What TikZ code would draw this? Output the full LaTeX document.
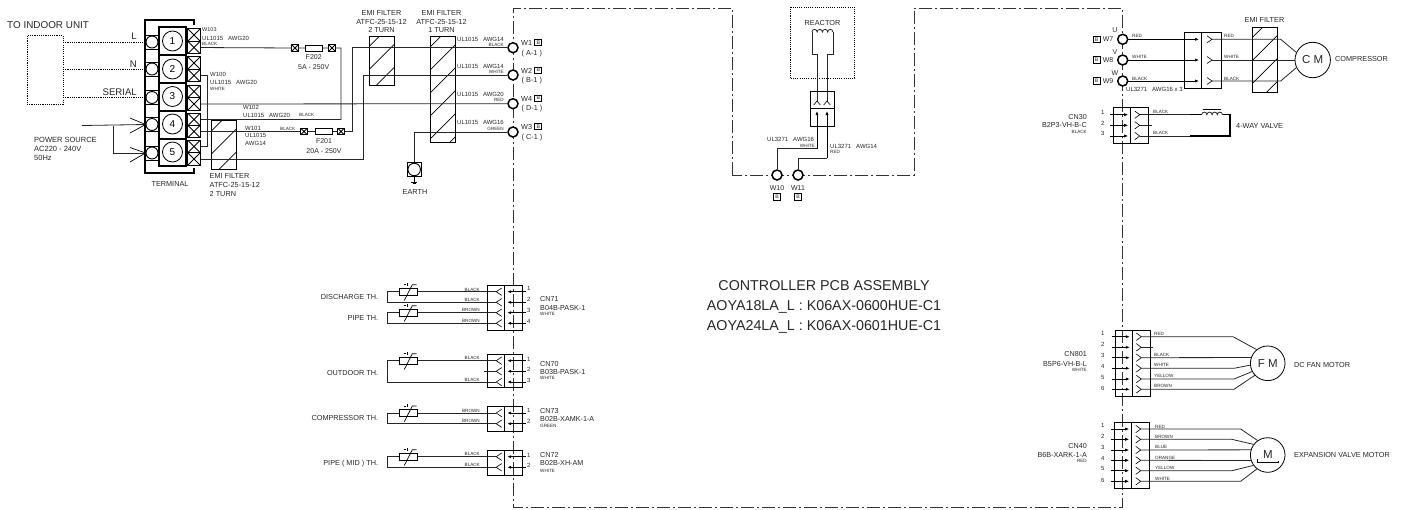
\documentclass[tikz,border=0pt]{standalone}
\usepackage{fontspec}
\setmainfont{Liberation Sans}
\usetikzlibrary{arrows.meta,calc}
\newcount\tn
\newdimen\tdim
\newcommand{\T}[4][west]{\global\advance\tn by 1\relax\tdim=#3pt\relax\tdim=0.72\tdim\relax
  \node[anchor=#1,inner sep=0pt,text depth=0pt,text height=\the\tdim,text=black!85,font=\fontsize{#3}{#3}\selectfont] (t\the\tn) at (#2) {#4};}
\tikzset{
  wire/.style={line width=0.8pt,black!85},
  heavy/.style={line width=1pt,black},
  dot/.style={line width=0.7pt,dash pattern=on 1.1pt off 1.1pt},
  pcb/.style={line width=0.8pt,black!80,dash pattern=on 13pt off 3pt on 2pt off 3pt},
  xbox/.style={draw,line width=0.8pt,rectangle,inner sep=0pt,minimum width=#1,minimum height=#1,fill=white,
    path picture={\draw[line width=0.8pt] (path picture bounding box.south west)--(path picture bounding box.north east)
      (path picture bounding box.north west)--(path picture bounding box.south east);}},
  bigc/.style={draw,circle,line width=0.8pt,inner sep=0pt,minimum size=20pt,fill=white,font=\fontsize{10}{10}\selectfont},
  smc/.style={draw,circle,line width=0.9pt,inner sep=0pt,minimum size=12pt,fill=white},
  wc/.style={draw,circle,line width=1.5pt,inner sep=0pt,minimum size=10pt,fill=white},
  motor/.style={draw,circle,line width=0.8pt,inner sep=0pt,fill=white,text=black!85,font=\fontsize{11.5}{12}\selectfont},
  fuse/.style={draw,rectangle,line width=0.8pt,inner sep=0pt,minimum width=17pt,minimum height=6pt},
  bx/.style={draw,rectangle,line width=0.9pt,inner sep=0pt,minimum width=7pt,minimum height=6.5pt,text=black!85,font=\fontsize{5.2}{5}\selectfont},
  therm/.style={draw,rectangle,line width=0.8pt,inner sep=0pt,minimum width=18pt,minimum height=6.7pt},
  pin/.style={line width=0.8pt,-{Latex[length=4pt,width=3.2pt]}},
  caret/.style={line width=0.6pt},
}
% EMI filter: name, centre x, centre y, width, height
\newcommand{\emi}[5]{\node[draw,rectangle,line width=0.9pt,inner sep=0pt,minimum width=#4pt,minimum height=#5pt,
  path picture={\foreach \o in {10,33,...,171}{\draw[line width=0.7pt] ($(path picture bounding box.north west)+(0,\o)$) -- ++(30,-30);}}] (#1) at (#2,#3) {};}
\newcommand{\cbox}[6]{\draw[heavy] (#2,#5) rectangle (#4,#6) (#3,#5) -- (#3,#6); \coordinate (#1) at (#3,#5);}
\newcommand{\rowsR}[5]{\foreach \i/\y in {#5}{
   \draw[pin] (#2-3.5,\y) -- (#3-2.5,\y);
   \draw[caret] (#3+4,\y-3.7) -- (#3+9,\y) -- (#3+4,\y+3.7);
   \coordinate (#1-\i) at (#3+9,\y);}}
\newcommand{\rowsL}[5]{\foreach \i/\y in {#5}{
   \draw[pin] (#4+3.5,\y) -- (#3+2.5,\y);
   \draw[caret] (#3-3,\y-3.7) -- (#3-8.5,\y) -- (#3-3,\y+3.7);
   \coordinate (#1-\i) at (#3-8.5,\y);}}
% thermistor: name, y
\newcommand{\thm}[2]{\node[therm] (#1) at (408.3,#2) {};
  \draw[line width=0.7pt] (404.3,#2+8.7) -- (412.3,#2-7) -- (416.5,#2-7);
  \draw[line width=0.7pt] (403.8,#2-7) -- (406,#2-7) (407.2,#2-8.6) -- (407.2,#2-5.6);}
\begin{document}
\begin{tikzpicture}[x=1pt,y=-1pt]
\useasboundingbox (0,0) rectangle (1406,509);

% ---------- PCB outline
\draw[pcb] (732,175) -- (732,8) -- (513,8) -- (513,507) -- (1122.7,507) -- (1122.7,8) -- (914,8) -- (914,175) -- cycle;

% ---------- indoor unit & terminal
\T{7,25}{9.9}{TO INDOOR UNIT}
\node[draw,dot,rectangle,inner sep=0pt,minimum width=36pt,minimum height=68.5pt] (indoor) at (45,70) {};
\draw[heavy,line width=1.1pt] (194,25) -- (194,20) -- (145,20) -- (145,173) -- (194,173) -- (194,168);
\foreach \n/\ya/\yb/\yc/\ys in {1/27/55/41/42,2/55/83/69/69,3/83/111/96.5/97.5,4/111/139/124/124.5,5/139/166/152/153}{
  \draw[line width=0.8pt] (145,\ys-7) rectangle (159,\ys+7);
  \node[smc] (tl\n) at (152,\ys) {};
  \draw[line width=1.3pt] (159,\ya) rectangle (186,\yb);
  \node[bigc] (tn\n) at (172.5,\yc) {\n};
}
\foreach \nm/\y in {a1/35,b1/47.5,a2/63,b2/75.5,a3/91.5,b3/104,a4/119.5,b4/131.5,a5/146.5,b5/159}{
  \node[xbox=12.5pt] (x\nm) at (194,\y) {};
}
\draw[dot] (tl1.west) -- (63,42);
\draw[dot] (tl2.west) -- (63,69);
\draw[dot] (tl3.west) -- (63,97.5);
\T[east]{137,36}{9.6}{L}
\T[east]{137,64}{9.6}{N}
\T[east]{137,92}{9.6}{SERIAL}

% power source
\coordinate (psrc) at (82,125.5);
\coordinate (psj) at (113,125.5);
\draw[wire] (psrc) -- (tl4.west);
\draw[wire] (psj) |- (tl5.west);
\draw[line width=0.7pt] (130,118) -- (tl4.west) -- (130,133);
\draw[line width=0.7pt] (130,147.5) -- (tl5.west) -- (130,162);
\T{34,140}{7.5}{POWER SOURCE}
\T{34,148.7}{7.5}{AC220 - 240V}
\T{34,158}{7.5}{50Hz}
\T[center]{170,184}{7.3}{TERMINAL}

% EMI filters
\emi{emiA}{224}{145}{24.5}{49}
\emi{emiB}{381.5}{60.8}{25}{48.5}
\emi{emiC}{443}{89.7}{25}{106}
\emi{emiD}{1264.5}{60}{25}{64.5}
\T{209.5,176}{7.3}{EMI FILTER}
\T{209.5,185}{7.3}{ATFC-25-15-12}
\T{209.5,193.7}{7.3}{2 TURN}
\T[center]{381.5,13}{7.3}{EMI FILTER}
\T[center]{381.5,21.7}{7.3}{ATFC-25-15-12}
\T[center]{381.5,30}{7.3}{2 TURN}
\T[center]{441.5,13}{7.3}{EMI FILTER}
\T[center]{441.5,21.7}{7.3}{ATFC-25-15-12}
\T[center]{441.5,30}{7.3}{1 TURN}
\T[center]{1264.5,20}{7.3}{EMI FILTER}

% fuses
\node[xbox=6.5pt] (f2l) at (295,48) {};
\node[fuse] (f2) at (313.7,48) {};
\node[xbox=6.5pt] (f2r) at (332,48) {};
\node[xbox=6.5pt] (f1l) at (304,131.5) {};
\node[fuse] (f1) at (323.7,131.5) {};
\node[xbox=6.5pt] (f1r) at (341,131.5) {};
\T[center]{313.7,57}{7}{F202}
\T[center]{313.7,66.5}{7}{5A - 250V}
\T[center]{324,141}{7}{F201}
\T[center]{324,150.7}{7}{20A - 250V}

% W terminals
\node[wc] (W1) at (513,47.7) {};
\node[wc] (W2) at (513,75) {};
\node[wc] (W4) at (513,103.7) {};
\node[wc] (W3) at (513,132) {};
\coordinate (c341) at (341,48);
\coordinate (c352) at (352.5,131.5);
\coordinate (c364) at (363.7,159);
\coordinate (c207) at (207.5,75.5);
\draw[wire] (xb1) -- (f2l) (f2l) -- (f2) (f2) -- (f2r) (f2r) -- (c341) |- (xa4);
\draw[wire] (xb2) -- (c207) |- (xa5);
\draw[wire] (xb3) -- (W4);
\draw[wire] (xb4) -- (f1l) (f1l) -- (f1) (f1) -- (f1r) (f1r) -- (c352) |- (W1);
\draw[wire] (xb5) -- (c364) |- (W2);
% earth
\node[rectangle,draw,line width=0.9pt,inner sep=0pt,minimum width=14.3pt,minimum height=13.6pt] (earth) at (414.2,169.5) {};
\node[draw,circle,line width=0.9pt,inner sep=0pt,minimum size=12.5pt] (earthc) at (414.2,169.5) {};
\draw[wire] (W3) -| (earth.north);
\draw[line width=0.6pt] (earth.south) -- ++(0,5.5) ++(-3,0) -- ++(6,0) ++(-4.6,1.4) -- ++(3.2,0);
\T[center]{415,192}{7.3}{EARTH}
% texts left part
\T{202,30}{5.5}{W103}
\T{202,38.5}{6}{UL1015\ \ \ AWG20}
\T{202,44}{4.6}{BLACK}
\T{210,74}{6}{W100}
\T{210,82.7}{6}{UL1015\ \ \ AWG20}
\T{210,89}{4.6}{WHITE}
\T{243,107.7}{6}{W102}
\T{243,115}{6}{UL1015\ \ \ AWG20}
\T{299,115}{4.6}{BLACK}
\T{245,128}{6}{W101}
\T{245,135}{6}{UL1015}
\T{245,143}{6}{AWG14}
\T{280,128.7}{4.6}{BLACK}
\foreach \a/\b/\c/\d in {39/45.3/AWG14/BLACK,66/71.7/AWG14/WHITE,94/100/AWG20/RED,122.3/129/AWG16/GREEN}{
  \T{457,\a}{6}{UL1015}
  \T[east]{504,\a}{6}{\c}
  \T[east]{504,\b}{4.6}{\d}
}
\foreach \a/\b/\c/\d in {43/52.7/W1/A-1,70.7/80/W2/B-1,98.7/108/W4/D-1,127/136.7/W3/C-1}{
  \T{521,\a}{7.3}{\c}
  \node[bx] (bx\c) at (538.3,\a-0.5) {B};
  \T{521.5,\b}{7.3}{( \d\ )}
}

% ---------- reactor
\node[draw,dot,rectangle,inner sep=0pt,minimum width=64pt,minimum height=70.7pt] (reactor) at (822.7,42.7) {};
\T[center]{822.5,23}{7.3}{REACTOR}
\draw[heavy] (810.3,91.3) rectangle (834.7,126.3) (810.3,108.7) -- (834.7,108.7);
\coordinate (cr1) at (817,101);
\coordinate (cr2) at (827,101);
\draw[wire] (811.9,32) arc[start angle=180,end angle=0,radius=2.625pt] arc[start angle=180,end angle=0,radius=2.625pt] arc[start angle=180,end angle=0,radius=2.625pt] arc[start angle=180,end angle=0,radius=2.625pt];
\draw[wire] (811.9,32) -- (811.9,54) -- (817,54) -- (cr1);
\draw[wire] (832.9,32) -- (832.9,54) -- (827,54) -- (cr2);
\draw[caret] (813.7,105) -- (817,101) -- (820.3,105);
\draw[caret] (823.7,105) -- (827,101) -- (830.3,105);
\node[wc] (W10) at (777,175) {};
\node[wc] (W11) at (798,175) {};
\coordinate (w10a) at (817,148.7);
\coordinate (w11a) at (827,158);
\coordinate (cr3) at (817,111);
\coordinate (cr4) at (827,111);
\draw[pin,{Latex[length=4pt,width=3.2pt]}-] (cr3) -- (w10a);
\draw[pin,{Latex[length=4pt,width=3.2pt]}-] (cr4) -- (w11a);
\draw[wire] (w10a) -| (W10);
\draw[wire] (w11a) -| (W11);
\T{767,139}{6}{UL3271\ \ \ AWG16}
\T[east]{815,145.7}{4.6}{WHITE}
\T{830,146}{6}{UL3271\ \ \ AWG14}
\T{830,152}{4.6}{RED}
\T[center]{777,188}{7}{W10}
\T[center]{798,188}{7}{W11}
\node[bx] (bx10) at (777,197) {B};
\node[bx] (bx11) at (798,197) {B};

% ---------- centre title
\T[center]{824,285}{14.3}{CONTROLLER PCB ASSEMBLY}
\T[center]{824,305}{14.3}{AOYA18LA\_L : K06AX-0600HUE-C1}
\T[center]{824,325}{14.3}{AOYA24LA\_L : K06AX-0601HUE-C1}

% ---------- compressor
\node[wc] (W7) at (1122.7,39.3) {};
\node[wc] (W8) at (1122.7,60) {};
\node[wc] (W9) at (1122.7,81) {};
\foreach \c/\l/\y/\z in {W7/U/39.3/30,W8/V/60/52,W9/W/81/73}{
  \T[center]{1108,\y}{7}{\c}
  \node[bx] (bx\c) at (1096.5,\y) {B};
  \T[center]{1115,\z}{7}{\l}
}
\draw[heavy] (1184.7,32) rectangle (1221.7,88) (1201.7,32) -- (1201.7,88);
\draw[pin] (W7) -- (1199,39.3);
\draw[pin] (W8) -- (1199,60);
\draw[pin] (W9) -- (1199,81);
\foreach \i/\y in {1/39.3,2/60,3/81}{
  \draw[caret] (1207,\y-3.5) -- (1212,\y) -- (1207,\y+3.5);
  \coordinate (cu-\i) at (1212,\y);
}
\node[motor,minimum size=35.4pt] (CM) at (1312.7,60) {C M};
\draw[wire] (cu-1) -- (1280.7,39.3) -- (CM.155);
\draw[wire] (cu-2) -- (CM.west);
\draw[wire] (cu-3) -- (1280.7,81) -- (CM.205);
\T{1335,59}{7.3}{COMPRESSOR}
\foreach \x in {1132,1224}{
  \T{\x,36.2}{4.6}{RED}
  \T{\x,57}{4.6}{WHITE}
  \T{\x,78.4}{4.6}{BLACK}
}
\T{1126,89.7}{6}{UL3271}
\T{1152,89.7}{6}{AWG16 x 3}

% ---------- CN30 / 4-way valve
\cbox{c30}{1113.3}{1130.7}{1148.3}{107.3}{143}
\rowsR{cn30}{1113.3}{1130.7}{1148.3}{1/114.7,2/125.3,3/136}
\draw[wire] (cn30-2) -- ++(12,0);
\coordinate (cva) at (1201.7,114.7);
\coordinate (cvb) at (1222.7,114.7);
\coordinate (cvc) at (1230,114.7);
\coordinate (cvd) at (1230,136);
\coordinate (cve) at (1190,136);
\draw[wire] (cn30-1) -- (cva);
\draw[heavy,line width=1.1pt] (1190,114.7) -- (cva);
\draw[wire] (cva) arc[start angle=180,end angle=0,radius=2.6pt] arc[start angle=180,end angle=0,radius=2.6pt] arc[start angle=180,end angle=0,radius=2.6pt] arc[start angle=180,end angle=0,radius=2.6pt];
\draw[heavy,line width=1.1pt] (cvb) -- (cvc) -- (cvd) -- (cve);
\draw[wire] (cve) -- (cn30-3);
\draw[line width=0.7pt] (1203,109.7) -- (1221,109.7);
\foreach \n/\y in {1/112,2/123,3/133}{\T[center]{1102.7,\y}{6}{\n}}
\T[east]{1087,117}{7.2}{CN30}
\T[east]{1087,125}{7.2}{B2P3-VH-B-C}
\T[east]{1087,132}{4.6}{BLACK}
\T{1153,112}{4.6}{BLACK}
\T{1153,133}{4.6}{BLACK}
\T{1236,126}{7.3}{4-WAY VALVE}

% ---------- CN801 / fan motor
\cbox{c801}{1115}{1132.3}{1150}{330}{396.3}
\rowsR{cn801}{1115}{1132.3}{1150}{1/336.7,2/347.3,3/357.7,4/368.3,5/379,6/389.3}
\node[motor,minimum size=34.6pt] (FM) at (1267.7,363.3) {F M};
\draw[wire] (cn801-2) -- ++(12,0);
\draw[wire] (cn801-1) -- (1233,336.7) -- (FM.129);
\draw[wire] (cn801-3) -- (FM.161);
\draw[wire] (cn801-4) -- (1234,368.3) -- (FM.186);
\draw[wire] (cn801-5) -- (1234,379) -- (FM.208);
\draw[wire] (cn801-6) -- (1234,389.3) -- (FM.223);
\foreach \n/\y in {1/333,2/344,3/355,4/366,5/377,6/388.5}{\T[center]{1102.7,\y}{6}{\n}}
\T[east]{1087,354}{7.2}{CN801}
\T[east]{1087,364}{7.2}{B5P6-VH-B-L}
\T[east]{1087,370.3}{4.6}{WHITE}
\foreach \c/\y in {RED/334,BLACK/355,WHITE/365,YELLOW/376,BROWN/386.3}{\T{1154,\y}{4.6}{\c}}
\T{1294,365}{7.3}{DC FAN MOTOR}

% ---------- CN40 / expansion valve motor
\cbox{c40}{1114.3}{1131.7}{1149.3}{422.3}{488.3}
\rowsR{cn40}{1114.3}{1131.7}{1149.3}{1/429,2/439.3,3/450,4/460.3,5/470.7,6/481.3}
\node[motor,minimum size=34.6pt] (EM) at (1267.7,455) {};
\T[center]{1268,454}{11.5}{M}
\draw[line width=0.8pt] (1257.3,459.3) -- (1257.3,462.5) -- (1278.7,462.5) -- (1278.7,460.5);
\draw[wire] (cn40-1) -- (1240.7,429) -- (EM.125.5);
\draw[wire] (cn40-2) -- (1231.7,439.3) -- (EM.143);
\draw[wire] (cn40-3) -- (EM.163);
\draw[wire] (cn40-4) -- (EM.198);
\draw[wire] (cn40-5) -- (1232,470.7) -- (EM.216);
\draw[wire] (cn40-6) -- (1240.7,481.3) -- (EM.232.5);
\foreach \n/\y in {1/425,2/436,3/447,4/458,5/468,6/480}{\T[center]{1102.7,\y}{6}{\n}}
\T[east]{1087,446}{7.2}{CN40}
\T[east]{1087,455}{7.2}{B6B-XARK-1-A}
\T[east]{1087,461}{4.6}{RED}
\foreach \c/\y in {RED/427,BROWN/437,BLUE/447,ORANGE/458,YELLOW/468.3,WHITE/479.3}{\T{1155,\y}{4.6}{\c}}
\T{1294,454.5}{7.3}{EXPANSION VALVE MOTOR}

% ---------- thermistor connectors
\cbox{c71}{487.3}{504.7}{522}{285}{330.3}
\rowsL{cn71}{487.3}{504.7}{522}{1/291.7,2/302.3,3/312.7,4/323.3}
\cbox{c70}{487.3}{504.7}{522}{354.3}{387.3}
\rowsL{cn70}{487.3}{504.7}{522}{1/360.7,2/371.3,3/382}
\cbox{c73}{487.3}{504.7}{522}{406}{431.3}
\rowsL{cn73}{487.3}{504.7}{522}{1/413,2/423.7}
\cbox{c72}{487.3}{504.7}{522}{450}{475.7}
\rowsL{cn72}{487.3}{504.7}{522}{1/456.7,2/467.3}
\thm{thA}{291.7}
\thm{thB}{312.7}
\thm{thC}{360.7}
\thm{thD}{413}
\thm{thE}{456.7}
\draw[wire] (thA.east) -- (cn71-1);
\draw[wire] (thA.west) -- ++(-12,0) |- (cn71-2);
\draw[wire] (thB.east) -- (cn71-3);
\draw[wire] (thB.west) -- ++(-12,0) |- (cn71-4);
\draw[wire] (thC.east) -- (cn70-1);
\draw[wire] (thC.west) -- ++(-12,0) |- (cn70-3);
\draw[wire] (cn70-2) -- ++(-12,0);
\draw[wire] (thD.east) -- (cn73-1);
\draw[wire] (thD.west) -- ++(-12,0) |- (cn73-2);
\draw[wire] (thE.east) -- (cn72-1);
\draw[wire] (thE.west) -- ++(-12,0) |- (cn72-2);
\T[east]{378.3,296.7}{7.3}{DISCHARGE TH.}
\T[east]{378.3,317.7}{7.3}{PIPE TH.}
\T[east]{378.3,373}{7.3}{OUTDOOR TH.}
\T[east]{378.3,418}{7.3}{COMPRESSOR TH.}
\T[east]{378.3,462.7}{7.3}{PIPE ( MID ) TH.}
\foreach \n/\y in {1/288.5,2/299.5,3/310.7,4/321.7}{\T[center]{528.7,\y}{6}{\n}}
\foreach \n/\y in {1/359,2/369.3,3/380}{\T[center]{528.7,\y}{6}{\n}}
\foreach \n/\y in {1/410.7,2/421.3}{\T[center]{528.7,\y}{6}{\n}}
\foreach \n/\y in {1/455,2/465.7}{\T[center]{528.7,\y}{6}{\n}}
\T{540,299.3}{7.2}{CN71}
\T{540,308.3}{7.2}{B04B-PASK-1}
\T{540,314.3}{4.6}{WHITE}
\T{540,363.7}{7.2}{CN70}
\T{540,372.3}{7.2}{B03B-PASK-1}
\T{540,378.3}{4.6}{WHITE}
\T{540,410.7}{7.2}{CN73}
\T{540,419.3}{7.2}{B02B-XAMK-1-A}
\T{540,425.7}{4.6}{GREEN}
\T{540,454.7}{7.2}{CN72}
\T{540,463}{7.2}{B02B-XH-AM}
\T{540,470.7}{4.6}{WHITE}
\foreach \c/\y in {BLACK/290,BLACK/300,BROWN/310.3,BROWN/320.7,BLACK/358,BLACK/380,BROWN/410.7,BROWN/421,BLACK/454,BLACK/465.3}{\T[east]{480,\y}{4.6}{\c}}
\end{tikzpicture}
\end{document}
